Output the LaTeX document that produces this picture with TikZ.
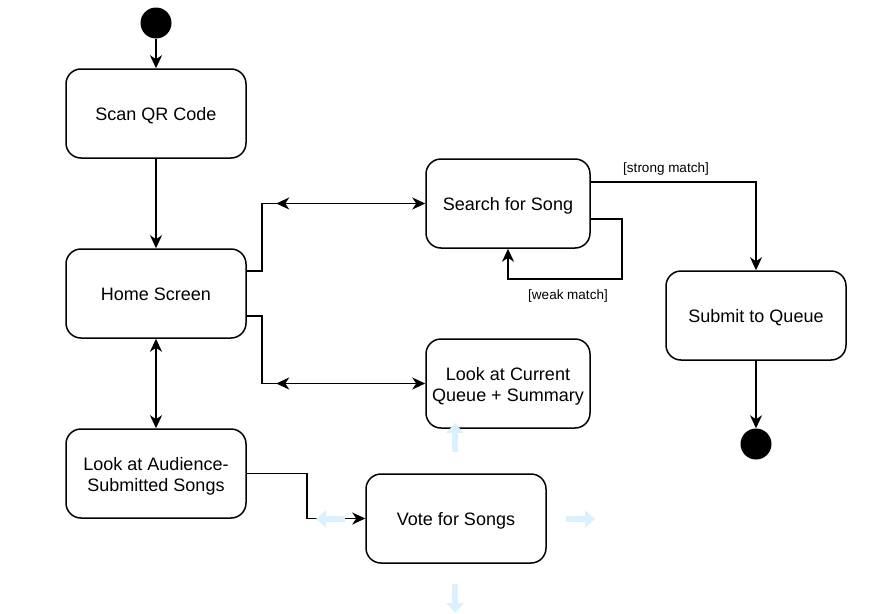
\documentclass[tikz,border=0pt]{standalone}
\usepackage{fontspec}
\setmainfont{Liberation Sans}
\usetikzlibrary{arrows.meta}
\definecolor{hintblue}{RGB}{218,240,253}
\begin{document}
\begin{tikzpicture}[x=1pt,y=-1pt,
  statebox/.style={draw, line width=1.5pt, rounded corners=15pt, minimum width=180pt, minimum height=89pt, inner sep=0pt,
    label={[yshift=-2.5pt, align=center, inner sep=0pt, font=\fontsize{18}{21}\selectfont]center:#1}},
  dot/.style={circle, fill=black, minimum size=31pt, inner sep=0pt},
  conn/.style={line width=1.5pt, -{Stealth[length=13pt,width=12pt,inset=4pt]}},
  tipboth/.style={line width=1.5pt, {Stealth[length=13pt,width=12pt,inset=4pt]}-{Stealth[length=13pt,width=12pt,inset=4pt]}},
  lbl/.style={font=\fontsize{13.5}{16}\selectfont, inner sep=0pt},
  hint/.style={draw=hintblue, line width=6pt, -{Triangle[length=10pt,width=17pt]}}
]
\useasboundingbox (0,0) rectangle (890,613);

\node[dot] (start) at (156,23) {};
\node[statebox={Scan QR Code}] (scan) at (156,113.5) {};
\node[statebox={Home Screen\vphantom{g}}] (home) at (156,293.5) {};
\node[statebox={Look at Audience-\\Submitted Songs}] (aud) at (156,473.5) {};
\node[statebox={Search for Song}, minimum width=164pt] (search) at (508,203.5) {};
\node[statebox={Look at Current\\Queue + Summary}, minimum width=164pt] (queue) at (508,383.5) {};
\node[statebox={Vote for Songs}] (vote) at (456,518.5) {};
\node[statebox={Submit to Queue}] (submit) at (756,315.5) {};
\node[dot] (end) at (756,444) {};

\draw[conn] (start) -- (scan);
\draw[conn] (scan) -- (home);
\draw[tipboth] (home) -- (aud);

\draw[conn] ([yshift=22.5pt]home.east) -- ++(15,0) |- (search.west);
\draw[conn] ([xshift=-135pt]search.west) -- ([xshift=-149pt]search.west);

\draw[conn] ([yshift=-22.5pt]home.east) -- ++(15,0) |- (queue.west);
\draw[conn] ([xshift=-135pt]queue.west) -- ([xshift=-149pt]queue.west);

\draw[conn] (aud.east) -- ++(60,0) |- (vote.west);

\draw[conn] ([yshift=-15.5pt]search.east) -- ++(31,0) -- ++(0,60) -| (search.south);
\node[lbl] (weak) at (568,296) {[weak match]};

\draw[conn] ([yshift=21.5pt]search.east) -| (submit.north);
\node[lbl] (strong) at (666,169) {[strong match]};

\draw[conn] (submit) -- (end);

\draw[hint] (455,452) -- (455,423);
\draw[hint] (345,519) -- (316,519);
\draw[hint] (566,519) -- (595,519);
\draw[hint] (455,584) -- (455,613);
\end{tikzpicture}
\end{document}
